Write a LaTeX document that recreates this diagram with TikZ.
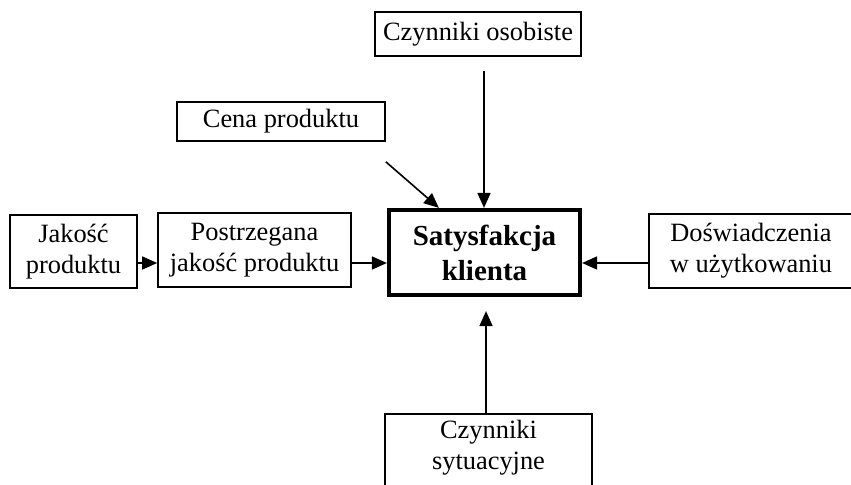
\documentclass[tikz,border=0pt]{standalone}
\usepackage{fontspec}
\setmainfont{Liberation Serif}
\usetikzlibrary{arrows.meta}
\begin{document}
\begin{tikzpicture}[x=1bp,y=-1bp,
  box/.style={draw, line width=1.6bp, inner sep=0pt, align=center,
    font=\fontsize{26.4bp}{31bp}\selectfont},
  mainbox/.style={box, line width=4.2bp,
    font=\fontsize{29bp}{35bp}\selectfont\bfseries},
  arr/.style={line width=1.6bp, -{Triangle[length=15bp,width=13bp]}}]
\useasboundingbox (0,0) rectangle (851,485);
\clip (0,0) rectangle (851,485);

% factor boxes
\node[box, minimum width=206bp, minimum height=44bp] (osob) at (478,34) {Czynniki osobiste};
\node[box, minimum width=208bp, minimum height=39bp] (cena) at (281,121.5) {Cena produktu};
\node[box, minimum width=127bp, minimum height=73bp] (jak) at (73.5,251.5) {Jakość\\produktu};
\node[box, minimum width=193bp, minimum height=74bp] (post) at (254.5,250) {Postrzegana\\jakość produktu};
\node[box, minimum width=204bp, minimum height=74bp] (dos) at (751,251) {Doświadczenia\\w użytkowaniu};
\node[box, minimum width=207bp, inner ysep=6bp, text depth=45bp, anchor=north] (sit) at (488.5,413) {Czynniki\\sytuacyjne};

% central box
\node[mainbox, minimum width=191bp, minimum height=85bp] (sat) at (484.5,252.5) {Satysfakcja\\klienta};

% connectors (canvas shifts: negative yshift points down)
\draw[arr] ([yshift=-11.5bp]jak.east) -- ([yshift=-11.5bp]jak.east -| post.west);
\draw[arr] ([yshift=-13bp]post.east) -- ([yshift=-13bp]post.east -| sat.west);
\draw[arr] ([yshift=-12bp]dos.west) -- ([yshift=-12bp]dos.west -| sat.east);
\draw[arr] ([xshift=6bp,yshift=-14bp]osob.south) -- ([xshift=6bp]osob.south |- sat.north);
\draw[arr] ([yshift=-20bp]cena.south east) -- ([xshift=52bp]sat.north west);
\draw[arr] ([xshift=-2.5bp]sit.north) -- ([xshift=-2.5bp,yshift=-14bp]sit.north |- sat.south);
\end{tikzpicture}
\end{document}
